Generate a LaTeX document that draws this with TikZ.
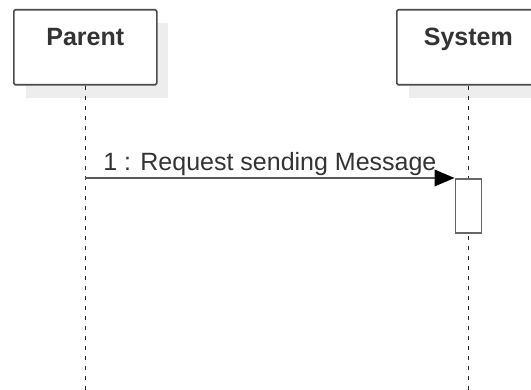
\documentclass[tikz,border=0pt]{standalone}
\usepackage{fontspec}
\setmainfont{Liberation Sans}
\usetikzlibrary{arrows.meta}

\begin{document}
\begin{tikzpicture}[x=1pt,y=-1pt,
		lifebox/.style={draw=black!70, line width=1.6pt, rounded corners=1.5pt, fill=white, inner sep=0pt, minimum width=143pt, minimum height=75pt, text height=36pt, text depth=39pt, anchor=north west, font=\fontsize{25}{28}\selectfont\bfseries, text=black!80},
		boxshadow/.style={fill=black!7, draw=none},
		lifeline/.style={black!85, line width=1.4pt, dash pattern=on 4pt off 6pt},
		actbox/.style={draw=black!60, line width=1.6pt, fill=white, minimum width=26pt, minimum height=54pt, inner sep=0pt, anchor=north},
		msgline/.style={black!65, line width=1.8pt, -{Triangle[length=20pt,width=17pt,fill=black,line width=0pt]}}]
			\clip (0,0) rectangle (531,390);
			\fill[white] (0,0) rectangle (531,390);
			
			% shadows
			\fill[boxshadow] (26,23) rectangle (168,98);
			\fill[boxshadow] (409,23) rectangle (552,98);
			
			% heads
			\node[lifebox] (parent) at (13,9) {Parent};
			\node[lifebox] (system) at (396,9) {System};
			
			% lifelines
			\coordinate (parentend) at (parent.south |- 0,392);
			\coordinate (systemend) at (system.south |- 0,392);
			\draw[lifeline] (parent.south) -- (parentend);
			\draw[lifeline] (system.south) -- (systemend);
			
			% activation and message
			\node[actbox] (act) at (system.south |- 0,178) {};
			\coordinate (msgstart) at (parent.south |- act.north);
			\draw[msgline] (msgstart) -- (act.north west) node[midway, above, inner sep=1pt, black!80, font=\fontsize{25}{28}\selectfont] {1 : Request sending Message};
\end{tikzpicture}
\end{document}
